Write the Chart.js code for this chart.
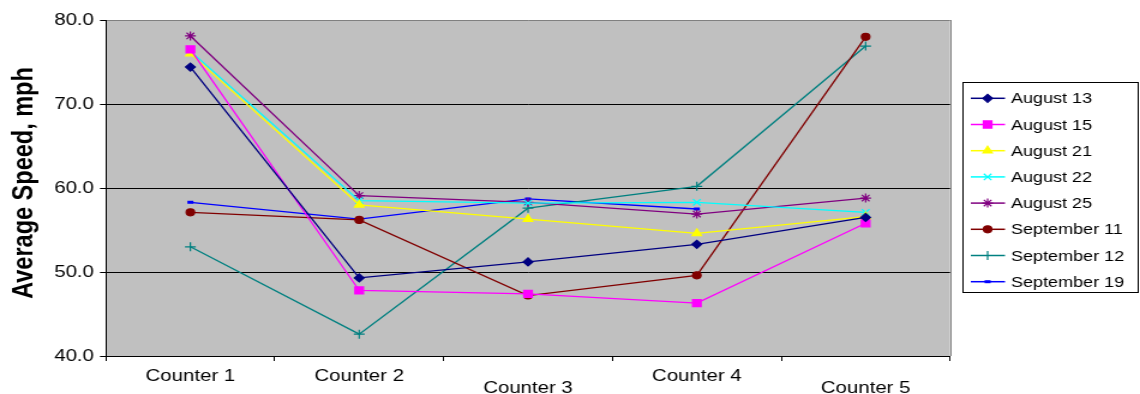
<!DOCTYPE html>
<html>
<head>
<meta charset="utf-8">
<script src="https://cdn.jsdelivr.net/npm/chart.js@4"></script>
<style>
  html, body { margin: 0; padding: 0; background: #ffffff; overflow: hidden; }
  #wrap { width: 950px; height: 394px; transform: scaleX(1.2); transform-origin: 0 0; }
  canvas { display: block; }
</style>
</head>
<body>
<div id="wrap"><canvas id="c" width="950" height="394"></canvas></div>
<script>
// ---- data ----
const categories = ['Counter 1', 'Counter 2', 'Counter 3', 'Counter 4', 'Counter 5'];
const seriesNames = ['August 13', 'August 15', 'August 21', 'August 22', 'August 25', 'September 11', 'September 12', 'September 19'];
const aug13 = [74.4, 49.3, 51.2, 53.3, 56.5];
const aug15 = [76.5, 47.8, 47.4, 46.3, 55.8];
const aug21 = [76.0, 58.0, 56.3, 54.6, 56.6];
const aug22 = [76.3, 58.5, 58.2, 58.3, 57.1];
const aug25 = [78.1, 59.1, 58.3, 56.9, 58.8];
const sep11 = [57.1, 56.2, 47.2, 49.6, 78.0];
const sep12 = [53.0, 42.6, 57.6, 60.2, 76.9];
const sep19 = [58.3, 56.3, 58.7, 57.5, null];
const yTicks = [40, 50, 60, 70, 80];
const yTitle = 'Average Speed, mph';

// ---- styles ----
const FONT = "'Liberation Sans', Arial, sans-serif";
const styles = [
  { color: '#000080', point: 'rectRot', r: 4 },
  { color: '#FF00FF', point: 'rect', r: 5 },
  { color: '#FFFF00', point: 'triangle', r: 4.5 },
  { color: '#00FFFF', point: 'crossRot', r: 4.5 },
  { color: '#800080', point: 'star', r: 4.5 },
  { color: '#800000', point: 'circle', r: 3.5 },
  { color: '#008080', point: 'cross', r: 4.5 },
  { color: '#0000FF', point: 'line', r: 2.5, pbw: 3 }
];
const values = [aug13, aug15, aug21, aug22, aug25, sep11, sep12, sep19];

const datasets = values.map((v, i) => ({
  label: seriesNames[i],
  data: v,
  borderColor: styles[i].color,
  backgroundColor: styles[i].color,
  borderWidth: 1.3,
  pointStyle: styles[i].point,
  pointRadius: styles[i].r,
  pointBackgroundColor: styles[i].color,
  pointBorderColor: styles[i].color,
  pointBorderWidth: styles[i].pbw || 1.2,
  pointHoverRadius: styles[i].r,
  tension: 0,
  spanGaps: false,
  clip: false
}));

const plotBg = {
  id: 'plotBg',
  beforeDraw(chart) {
    const { ctx, chartArea: a } = chart;
    ctx.save();
    ctx.fillStyle = '#C0C0C0';
    ctx.fillRect(a.left, a.top, a.right - a.left, a.bottom - a.top);
    ctx.restore();
  },
  beforeDatasetsDraw(chart) {
    const { ctx, chartArea: a } = chart;
    ctx.save();
    ctx.strokeStyle = '#808080';
    ctx.lineWidth = 1;
    const x = Math.round(a.right) + 0.5;
    ctx.beginPath();
    ctx.moveTo(x, a.top);
    ctx.lineTo(x, a.bottom);
    ctx.stroke();
    // y-axis title
    ctx.translate(21, 183);
    ctx.rotate(-Math.PI / 2);
    ctx.fillStyle = '#000000';
    ctx.font = 'bold 23.5px ' + FONT;
    ctx.textAlign = 'center';
    ctx.textBaseline = 'middle';
    ctx.fillText(yTitle, 0, 0);
    ctx.restore();
  }
};

const boxLegend = {
  id: 'boxLegend',
  afterDraw(chart) {
    const ctx = chart.ctx;
    const left = 802.5, top = 82.5, right = 948.5, bottom = 292.5;
    ctx.save();
    ctx.fillStyle = '#ffffff';
    ctx.fillRect(left, top, right - left, bottom - top);
    ctx.strokeStyle = '#000000';
    ctx.lineWidth = 1;
    ctx.strokeRect(left, top, right - left, bottom - top);
    chart.data.datasets.forEach((ds, i) => {
      const y = 98.3 + i * 26.2;
      ctx.strokeStyle = ds.borderColor;
      ctx.lineWidth = 1.5;
      ctx.beginPath();
      ctx.moveTo(809, y);
      ctx.lineTo(837.5, y);
      ctx.stroke();
      const opts = {
        pointStyle: ds.pointStyle,
        radius: ds.pointRadius,
        rotation: 0,
        borderWidth: ds.pointBorderWidth
      };
      ctx.fillStyle = ds.pointBackgroundColor;
      ctx.strokeStyle = ds.pointBorderColor;
      ctx.lineWidth = ds.pointBorderWidth;
      Chart.helpers.drawPoint(ctx, opts, 823, y);
      ctx.fillStyle = '#000000';
      ctx.font = '15px ' + FONT;
      ctx.textBaseline = 'middle';
      ctx.textAlign = 'left';
      ctx.fillText(ds.label, 842.5, y + 1);
    });
    ctx.restore();
  }
};

new Chart(document.getElementById('c'), {
  type: 'line',
  data: { labels: categories, datasets },
  plugins: [plotBg, boxLegend],
  options: {
    responsive: false,
    animation: false,
    events: [],
    layout: { padding: { top: 20, right: 158.3, bottom: 0, left: 0 } },
    plugins: { legend: { display: false }, tooltip: { enabled: false } },
    scales: {
      x: {
        type: 'category',
        offset: true,
        afterFit(scale) { scale.height = 38; },
        grid: {
          offset: true,
          drawOnChartArea: false,
          drawTicks: true,
          tickLength: 5,
          color: '#000000',
          tickColor: '#000000'
        },
        border: { display: true, color: '#000000', width: 1 },
        ticks: {
          color: '#000000',
          font: { family: FONT, size: 17, lineHeight: 0.72 },
          padding: 9,
          maxRotation: 0,
          autoSkip: false,
          callback(value, index) {
            const lbl = this.getLabelForValue(value);
            return (index === 2 || index === 4) ? ['', lbl] : lbl;
          }
        }
      },
      y: {
        min: yTicks[0],
        max: yTicks[yTicks.length - 1],
        afterFit(scale) { scale.width = 88.3; },
        afterBuildTicks(scale) { scale.ticks = yTicks.map(v => ({ value: v })); },
        grid: {
          color(ctx) { return ctx.tick && ctx.tick.value === 80 ? '#808080' : '#000000'; },
          tickColor: '#000000',
          lineWidth: 1,
          tickLength: 5,
          drawTicks: true
        },
        border: { display: true, color: '#000000', width: 1 },
        ticks: {
          color: '#000000',
          font: { family: FONT, size: 17 },
          padding: 5,
          callback(v) { return Number(v).toFixed(1); }
        },
        title: { display: false }
      }
    }
  }
});
</script>
</body>
</html>
